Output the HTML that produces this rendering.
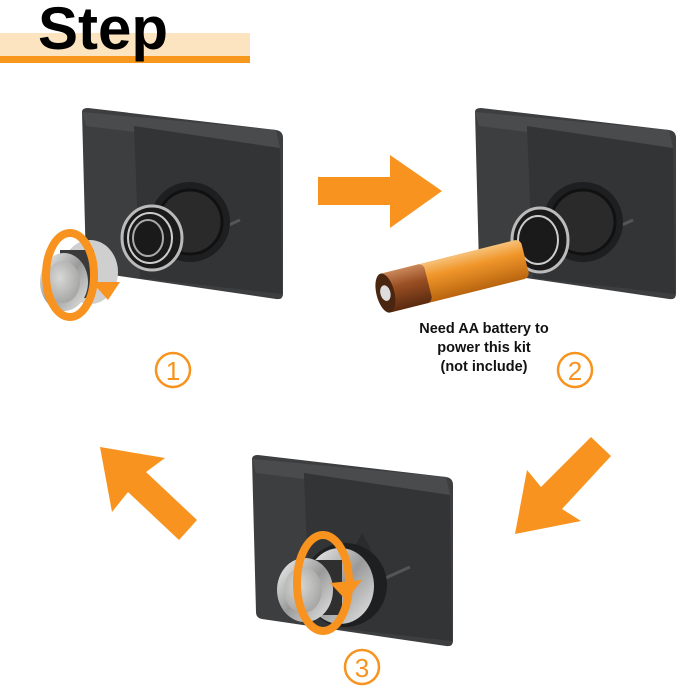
<!DOCTYPE html>
<html><head><meta charset="utf-8"><style>
html,body{margin:0;padding:0;background:#fff}
svg{display:block}
</style></head><body>
<svg width="679" height="689" viewBox="0 0 679 689" xmlns="http://www.w3.org/2000/svg">
<defs>
<linearGradient id="metal" x1="0" y1="0" x2="1" y2="1">
<stop offset="0" stop-color="#f4f4f4"/><stop offset="0.5" stop-color="#9a9a9a"/><stop offset="1" stop-color="#e8e8e8"/>
</linearGradient>
<radialGradient id="face" cx="0.4" cy="0.4" r="0.6">
<stop offset="0" stop-color="#d8d8d6"/><stop offset="1" stop-color="#a8a8a6"/>
</radialGradient>
<linearGradient id="batt" x1="0" y1="0" x2="0" y2="1">
<stop offset="0" stop-color="#f7c27a"/><stop offset="0.35" stop-color="#f0962a"/><stop offset="1" stop-color="#b9650f"/>
</linearGradient>
<linearGradient id="battc" x1="0" y1="0" x2="0" y2="1">
<stop offset="0" stop-color="#c9885a"/><stop offset="0.4" stop-color="#9a4f23"/><stop offset="1" stop-color="#5a2a10"/>
</linearGradient>
<g id="box">
<path d="M2,4 Q2,0 8,0 L196,22 Q203,23 203,30 L203,186 Q203,192 196,191 L12,164 Q6,163 6,157 Z" fill="#3d3e40"/>
<path d="M54,18 L200,40 L202,186 L60,170 Z" fill="#333436"/>
<path d="M2,4 L196,22 L200,40 L54,18 L54,24 L6,18 Z" fill="#4a4b4d"/>
<path d="M112,78 L122,96 L100,100 Z" fill="#2a2b2d"/>
<line x1="120" y1="130" x2="160" y2="112" stroke="#555" stroke-width="3"/>
</g>
</defs>

<rect x="0" y="33" width="250" height="23" fill="#fde4c0"/>
<rect x="0" y="56" width="250" height="7" fill="#f7981d"/>
<text x="38" y="49" font-family="Liberation Sans, sans-serif" font-weight="bold" font-size="60" fill="#000">Step</text>

<use href="#box" transform="translate(80,108)"/>
<circle cx="190" cy="222" r="40" fill="#1e1f20"/>
<circle cx="190" cy="222" r="32" fill="#2a2a2b" stroke="#111" stroke-width="3"/>
<ellipse cx="152" cy="238" rx="30" ry="32" fill="#1a1a1a" stroke="#bbb" stroke-width="3"/>
<ellipse cx="150" cy="238" rx="22" ry="25" fill="none" stroke="#ccc" stroke-width="2"/>
<ellipse cx="148" cy="238" rx="15" ry="18" fill="none" stroke="#aaa" stroke-width="2"/>
<ellipse cx="90" cy="272" rx="28" ry="32" fill="#cfcfcf"/>
<rect x="60" y="250" width="34" height="48" fill="#3a3a3a"/>
<ellipse cx="64" cy="282" rx="24" ry="29" fill="url(#metal)"/>
<ellipse cx="63" cy="282" rx="17" ry="21" fill="url(#face)"/>
<ellipse cx="70" cy="275" rx="24" ry="42" fill="none" stroke="#f7931e" stroke-width="8"/>
<path d="M92,282 L120,282 L108,300 Z" fill="#f7931e"/>

<polygon points="318,177 390,177 390,155 442,191 390,228 390,205 318,205" fill="#f7931e"/>

<use href="#box" transform="translate(473,108)"/>
<circle cx="583" cy="222" r="40" fill="#1e1f20"/>
<circle cx="583" cy="222" r="32" fill="#2a2a2b" stroke="#111" stroke-width="3"/>
<ellipse cx="540" cy="240" rx="28" ry="32" fill="#1a1a1a" stroke="#bbb" stroke-width="3"/>
<ellipse cx="538" cy="240" rx="20" ry="24" fill="none" stroke="#ccc" stroke-width="2"/>
<g transform="translate(382,296) rotate(-14)">
<rect x="0" y="-22" width="148" height="40" rx="6" fill="url(#batt)"/>
<rect x="0" y="-22" width="48" height="40" rx="6" fill="url(#battc)"/>
<ellipse cx="4" cy="-2" rx="9" ry="20" fill="#4a2510"/>
<ellipse cx="4" cy="-2" rx="5" ry="8" fill="#ddd"/>
</g>
<g font-family="Liberation Sans, sans-serif" font-weight="bold" font-size="14.5" fill="#111" text-anchor="middle">
<text x="484" y="333">Need AA battery to</text>
<text x="484" y="352">power this kit</text>
<text x="484" y="371">(not include)</text>
</g>

<g font-family="Liberation Sans, sans-serif" font-size="26" fill="#f7931e" text-anchor="middle">
<circle cx="173" cy="370" r="17" fill="none" stroke="#f7931e" stroke-width="2.5"/>
<text x="173" y="380">1</text>
<circle cx="575" cy="370" r="17" fill="none" stroke="#f7931e" stroke-width="2.5"/>
<text x="575" y="380">2</text>
<circle cx="362" cy="667" r="17" fill="none" stroke="#f7931e" stroke-width="2.5"/>
<text x="362" y="677">3</text>
</g>

<polygon points="100,447 165,458 146,472 197,520 179,540 128,492 112,512" fill="#f7931e"/>
<polygon points="591,437 611,456 562,509 581,521 515,534 527,470 541,487" fill="#f7931e"/>

<use href="#box" transform="translate(250,455)"/>
<circle cx="345" cy="585" r="42" fill="#1e1f20"/>
<ellipse cx="340" cy="586" rx="34" ry="38" fill="url(#metal)"/>
<rect x="300" y="560" width="42" height="55" fill="#2f2f30"/>
<ellipse cx="305" cy="590" rx="28" ry="32" fill="url(#metal)"/>
<ellipse cx="303" cy="590" rx="19" ry="23" fill="url(#face)"/>
<ellipse cx="323" cy="583" rx="26" ry="48" fill="none" stroke="#f7931e" stroke-width="8"/>
<path d="M330,583 L362,580 L346,600 Z" fill="#f7931e"/>
</svg>
</body></html>
